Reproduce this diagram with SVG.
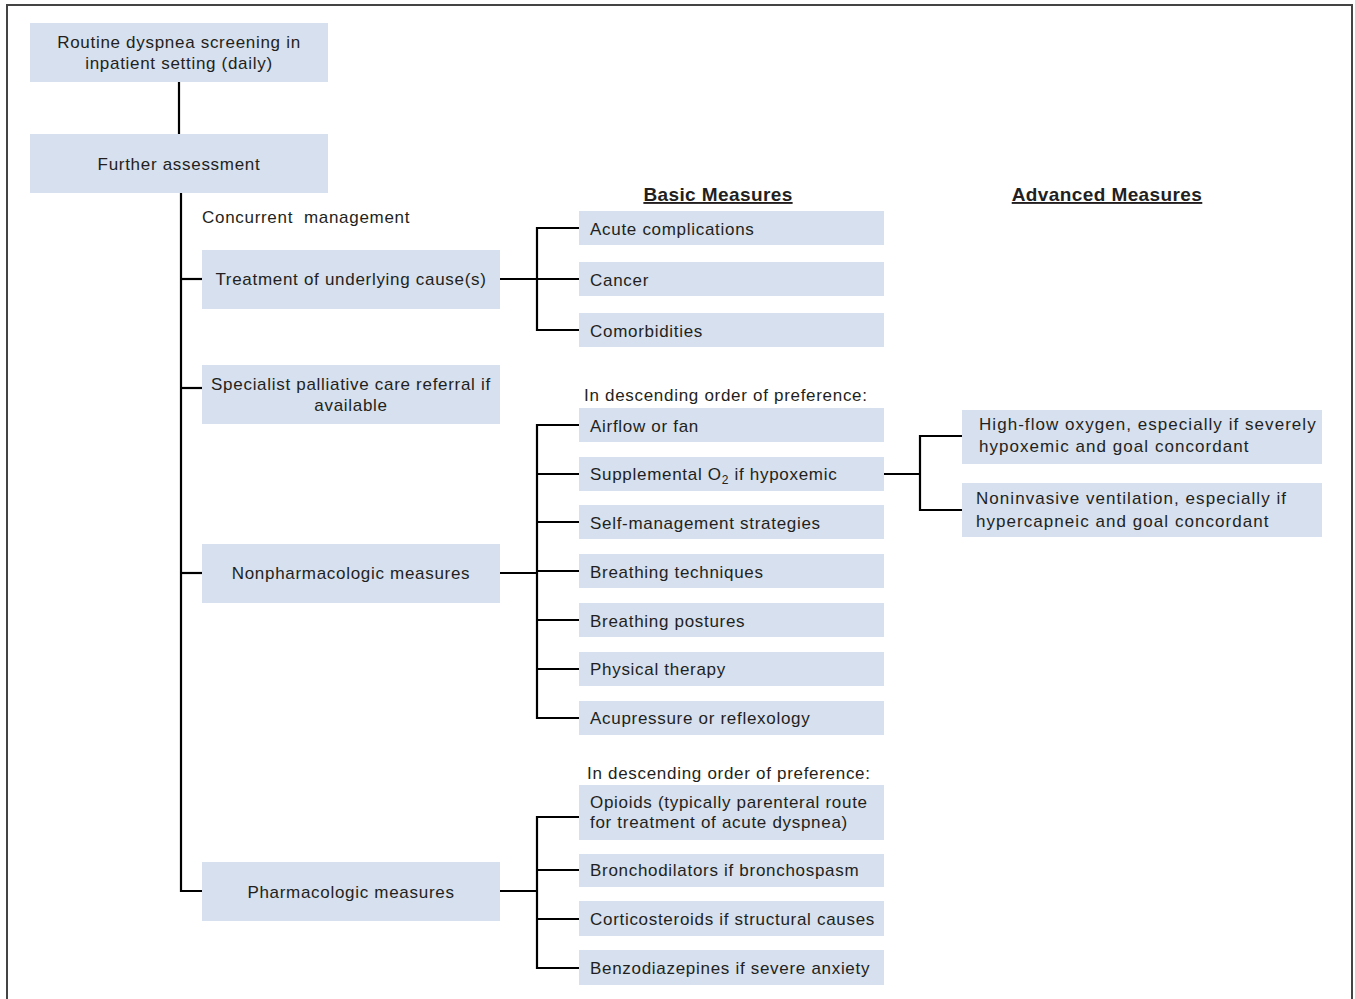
<svg xmlns="http://www.w3.org/2000/svg" width="1355" height="999" viewBox="0 0 1355 999">
<style>
.box{fill:#d6e0ee;}
.t{font-family:"Liberation Sans",Arial,sans-serif;font-size:17px;letter-spacing:0.7px;fill:#231f20;}
.w{letter-spacing:1.05px;}
.c{text-anchor:middle;}
.h{font-family:"Liberation Sans",Arial,sans-serif;font-size:19px;font-weight:bold;letter-spacing:0.4px;fill:#231f20;text-anchor:middle;text-decoration:underline;}
.ln{fill:none;stroke:#000;stroke-width:2.2;}
.border{fill:none;stroke:#444;stroke-width:2;}
</style>
<rect x="0" y="0" width="1355" height="999" fill="#fff"/>
<path class="border" d="M7,999 V5 H1352 V999"/>

<g id="connectors">
<path class="ln" d="M179,82 V134"/>
<path class="ln" d="M181,193 V891 H202"/>
<path class="ln" d="M181,279 H202"/>
<path class="ln" d="M181,388 H202"/>
<path class="ln" d="M181,573 H202"/>
<path class="ln" d="M500,279 H537"/>
<path class="ln" d="M579,228 H537 V330 H579"/>
<path class="ln" d="M537,279 H579"/>
<path class="ln" d="M500,573 H537"/>
<path class="ln" d="M579,425 H537 V718 H579"/>
<path class="ln" d="M537,474 H579 M537,522 H579 M537,571 H579 M537,620 H579 M537,669 H579"/>
<path class="ln" d="M884,474 H920"/>
<path class="ln" d="M962,436 H920 V510 H962"/>
<path class="ln" d="M500,891 H537"/>
<path class="ln" d="M579,817 H537 V968 H579"/>
<path class="ln" d="M537,870 H579 M537,919 H579"/>
</g>

<g id="screening"><rect class="box" x="30" y="23" width="298" height="59"/>
<text class="t c" x="179" y="48">Routine dyspnea screening in</text>
<text class="t c" x="179" y="69">inpatient setting (daily)</text></g>

<g id="assessment"><rect class="box" x="30" y="134" width="298" height="59"/>
<text class="t c" x="179" y="170">Further assessment</text></g>

<g id="concurrent"><text class="t" x="202" y="223" xml:space="preserve">Concurrent  management</text></g>

<g id="treatment"><rect class="box" x="202" y="250" width="298" height="59"/>
<text class="t c" x="351" y="285">Treatment of underlying cause(s)</text></g>

<g id="specialist"><rect class="box" x="202" y="365" width="298" height="59"/>
<text class="t c" x="351" y="390">Specialist palliative care referral if</text>
<text class="t c" x="351" y="411">available</text></g>

<g id="nonpharm"><rect class="box" x="202" y="544" width="298" height="59"/>
<text class="t c" x="351" y="579">Nonpharmacologic measures</text></g>

<g id="pharm"><rect class="box" x="202" y="862" width="298" height="59"/>
<text class="t c" x="351" y="898">Pharmacologic measures</text></g>

<g id="headers">
<text class="h" x="718" y="201">Basic Measures</text>
<text class="h" x="1107" y="201">Advanced Measures</text>
</g>

<g id="acute"><rect class="box" x="579" y="211" width="305" height="34"/>
<text class="t" x="590" y="235">Acute complications</text></g>
<g id="cancer"><rect class="box" x="579" y="262" width="305" height="34"/>
<text class="t" x="590" y="286">Cancer</text></g>
<g id="comorbid"><rect class="box" x="579" y="313" width="305" height="34"/>
<text class="t" x="590" y="337">Comorbidities</text></g>

<g id="order1"><text class="t" x="584" y="401">In descending order of preference:</text></g>

<g id="airflow"><rect class="box" x="579" y="408" width="305" height="34"/>
<text class="t" x="590" y="432">Airflow or fan</text></g>
<g id="o2"><rect class="box" x="579" y="457" width="305" height="34"/>
<text class="t" x="590" y="480">Supplemental O<tspan font-size="12" dy="4">2</tspan><tspan dy="-4"> if hypoxemic</tspan></text></g>
<g id="selfmgmt"><rect class="box" x="579" y="505" width="305" height="34"/>
<text class="t" x="590" y="529">Self-management strategies</text></g>
<g id="techniques"><rect class="box" x="579" y="554" width="305" height="34"/>
<text class="t" x="590" y="578">Breathing techniques</text></g>
<g id="postures"><rect class="box" x="579" y="603" width="305" height="34"/>
<text class="t" x="590" y="627">Breathing postures</text></g>
<g id="physical"><rect class="box" x="579" y="652" width="305" height="34"/>
<text class="t" x="590" y="675">Physical therapy</text></g>
<g id="acupressure"><rect class="box" x="579" y="701" width="305" height="34"/>
<text class="t" x="590" y="724">Acupressure or reflexology</text></g>

<g id="highflow"><rect class="box" x="962" y="410" width="360" height="54"/>
<text class="t w" x="979" y="430">High-flow oxygen, especially if severely</text>
<text class="t w" x="979" y="452">hypoxemic and goal concordant</text></g>
<g id="niv"><rect class="box" x="962" y="483" width="360" height="54"/>
<text class="t w" x="976" y="504">Noninvasive ventilation, especially if</text>
<text class="t w" x="976" y="527">hypercapneic and goal concordant</text></g>

<g id="order2"><text class="t" x="587" y="779">In descending order of preference:</text></g>

<g id="opioids"><rect class="box" x="579" y="785" width="305" height="55"/>
<text class="t" x="590" y="808">Opioids (typically parenteral route</text>
<text class="t" x="590" y="828">for treatment of acute dyspnea)</text></g>
<g id="broncho"><rect class="box" x="579" y="854" width="305" height="33"/>
<text class="t" x="590" y="876">Bronchodilators if bronchospasm</text></g>
<g id="cortico"><rect class="box" x="579" y="901" width="305" height="35"/>
<text class="t" x="590" y="925">Corticosteroids if structural causes</text></g>
<g id="benzo"><rect class="box" x="579" y="950" width="305" height="35"/>
<text class="t" x="590" y="974">Benzodiazepines if severe anxiety</text></g>
</svg>
